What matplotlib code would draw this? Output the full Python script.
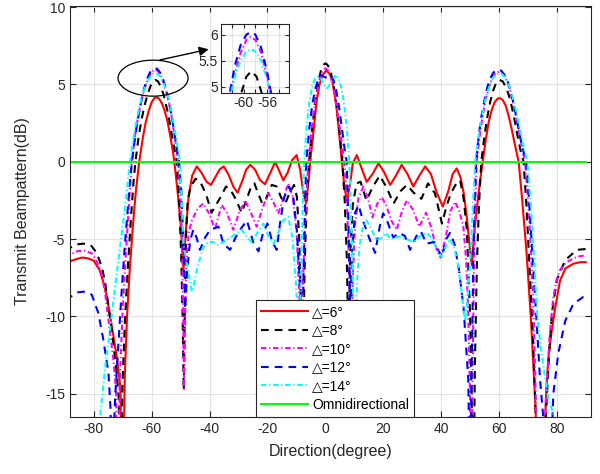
import matplotlib
matplotlib.use('Agg')
import matplotlib.pyplot as plt
from matplotlib.patches import Ellipse

plt.rcParams['font.family'] = ['Liberation Sans', 'DejaVu Sans']
plt.rcParams['axes.unicode_minus'] = False

# beampattern readings (degree, dB) per aperture width
deg_6 = [-90, -88, -86, -84, -82, -80, -78, -76.5, -75.5, -74.3, -73.2, -72, -70.8, -70.0, -69.3, -68.5, -67.5,
         -66.5, -65.5, -64.3, -63, -62, -61, -60, -59, -58.3, -57.5, -56.5, -55.5, -54.5, -53.5, -52.5, -51.8,
         -51, -50, -49, -48.2, -47.2, -46, -44.4, -42.8, -41, -39.5, -38, -36.5, -35.1, -33.5, -31.8, -30.3,
         -28.8, -27.3, -25.9, -24.3, -22.5, -20.8, -19.2, -17.3, -15.9, -14.5, -13, -11.5, -9.9, -8.7, -7.6,
         -6.6, -5.8, -5.0, -4.1, -3.0, -2.0, -1.0, 0.3, 1.5, 2.3, 3.2, 4.0, 5.0, 5.7, 6.6, 7.5, 8.5, 9.5, 10.9,
         12.5, 14.3, 16.3, 18.4, 20.4, 22.4, 24.4, 26.4, 28.4, 30.4, 32.5, 34.5, 36.5, 38.5, 40.6, 42.5, 44,
         45.4, 46.7, 47.8, 48.9, 49.8, 50.6, 51.5, 52.5, 53.5, 54.4, 55.5, 56.5, 57.5, 58.5, 59.5, 60.3, 61.3,
         62.3, 63.3, 64.3, 65.3, 66.8, 68, 69.5, 71, 72.5, 73.5, 74.5, 75.5, 76.3, 77.1, 78.2, 79.4, 81.1, 83,
         85.7, 88, 90]
db_6 = [-6.5, -6.43, -6.3, -6.2, -6.25, -6.4, -7.0, -7.9, -8.7, -10.0, -11.3, -12.7, -14.6, -24, -14, -10, -6.8,
        -4.2, -2.0, 0, 1.6, 2.6, 3.3, 3.85, 4.12, 4.17, 4.1, 3.8, 3.3, 2.6, 1.6, 0.5, -0.6,
        -2.0, -4.0, -7.0, -4.5, -2.2, -0.9, -0.3, -0.7, -1.3, -1.5, -1.0, -0.5, -0.3, -0.8, -1.6, -2.0,
        -1.3, -0.5, -0.2, -0.5, -1.2, -1.45, -0.8, 0.0, -0.6, -1.2, -0.7, 0.1, 0.43, -0.5, -2.0,
        -2.7, -1.3, 0.4, 1.9, 3.9, 5.0, 5.6, 5.9, 5.7, 5.3, 4.4, 3.3, 1.4, 0.0, -1.6, -2.6, -1.5, -0.1, 0.43,
        -0.4, -1.3, -0.8, -0.1, -0.7, -1.5, -0.9, -0.2, -0.8, -1.6, -0.9, -0.3, -0.8, -2.0, -2.9, -1.9, -0.8,
        -0.43, -1.0, -2.0, -3.6, -5.3, -6.7, -4.5, -2.8, -1.2, 0, 1.5, 2.6, 3.35, 3.85, 4.08, 4.12, 4.0,
        3.65, 3.0, 2.2, 1.3, 0, -2.4, -5.8, -10, -15.4, -20, -26, -19, -15, -12.6, -11, -9.5, -7.7, -6.9,
        -6.6, -6.5, -6.5]

deg_8 = [-90, -88, -86, -83.5, -81, -79, -77.2, -76, -74.9, -73.2, -72.2, -71.4, -70.8, -70.1, -69.2, -68.2,
         -67.2, -66.3, -65.6, -64.5, -63.5, -62.5, -61.5, -60.5, -59.5, -58.7, -57.8, -56.8, -55.8, -54.8, -53.8,
         -52.5, -51.3, -50.5, -49.8, -49.3, -48.9, -48.5, -48.1, -47.6, -46.5, -44.8, -43.2, -41.2, -39.3, -37.8,
         -36.2, -34.3, -32.5, -31, -28.9, -27.3, -25.6, -24.5, -23.3, -21.8, -20.5, -18.5, -16.8, -15.3, -13.8,
         -12.3, -10.8, -9.8, -9, -8.3, -7.7, -7.1, -6.4, -5.6, -4.5, -3.5, -2.5, -1.5, -0.5, 0.2, 1, 2, 3, 4, 5,
         5.9, 6.7, 7.4, 8, 8.6, 9.5, 10.8, 12.2, 14.2, 16.5, 18.8, 21, 23.6, 26, 28.2, 30.5, 33.2, 35.5, 37.9,
         40.3, 42, 43.5, 45, 46.6, 47.8, 48.9, 50, 50.6, 51.1, 51.7, 52.4, 53.1, 53.9, 55, 56, 57, 58, 59, 60.2,
         61.3, 62.5, 63.5, 64.5, 65.5, 66.5, 67.5, 68.5, 69.5, 70.8, 71.8, 72.5, 73.5, 74.5, 75.5, 76.5, 77.4,
         78.3, 80, 82.9, 86.9, 90]
db_8 = [-5.7, -5.55, -5.35, -5.3, -5.4, -5.9, -6.8, -7.9, -9.4, -11.8, -13.5, -15.2, -24, -14.5, -10.2, -6.8,
        -3.8, -1.4, 0, 1.6, 2.7, 3.6, 4.3, 4.85, 5.2, 5.3, 5.2, 4.85, 4.3, 3.5, 2.6,
        1.2, 0, -2.5, -6, -10, -14.8, -9, -4.8, -2.6, -1.6, -1.1, -1.3, -2.1, -3.3, -2.8,
        -2.3, -1.6, -1.9, -2.4, -3.3, -2.5, -1.6, -1.4, -2.0, -2.7, -2.4, -1.5, -1.6, -2.3, -2.7,
        -2.0, -1.5, -2.3, -5, -10, -12.5, -6.5, -2.5, 0, 2.2, 3.9, 5.1, 5.9, 6.3, 6.37, 6.2, 5.7, 4.8, 3.5, 1.8,
        0, -2.5, -6, -12, -6, -2.8, -1.4, -1.3, -2.5, -1.6, -0.9, -1.6, -2.7, -1.9, -1.5, -2.0, -2.4, -1.4, -2.05,
        -4.0, -2.8, -2.0, -1.5, -1.2, -2.4, -4.4, -9.8, -15.4, -24, -13, -6.5, -2.8, 0, 1.7, 2.9, 3.9, 4.6, 5.1, 5.3,
        5.2, 4.8, 4.25, 3.5, 2.6, 1.6, 0.7, 0, -2.8, -7.7, -11.5, -15.4, -20, -26, -19, -15.4, -12.2,
        -9.8, -7.66, -6.37, -5.7, -5.65]

deg_10 = [-90, -88, -85.5, -83, -80.5, -78.8, -77.2, -76, -74.9, -73.2, -72.3, -71.7, -71, -70, -69, -68, -66.9,
          -65.5, -64.5, -63.5, -62.5, -61.5, -60.5, -59.5, -58.8, -58, -57, -56, -55, -54, -53, -52, -50.8, -50,
          -49.5, -49.1, -48.8, -48.4, -48, -47.2, -46.1, -44, -42.1, -40, -38.1, -37, -35.8, -34, -31.8, -29.8,
          -27.7, -25.7, -23.7, -21.7, -19.7, -18, -16.2, -14.5, -12.8, -11.2, -9.9, -8.9, -8.3, -7.6, -6.6, -5.8,
          -5, -4, -3, -2, -1, 0, 1, 2, 3, 4, 5, 6, 6.8, 7.5, 8.3, 8.9, 9.5, 10.3, 11.5, 13.2, 14.8, 16.3, 18,
          19.5, 21, 22.8, 24.7, 26.5, 28.2, 30.3, 32.5, 34.8, 36.5, 38.5, 39.8, 41.5, 43.2, 44.9, 46.3, 47.7,
          48.7, 49.4, 50, 50.5, 51, 51.5, 51.9, 52.3, 53.5, 54.5, 55.5, 56.5, 57.5, 58.5, 59.5, 60.2, 61, 62,
          63, 64, 65, 66, 67, 68, 69, 70, 71, 72, 72.7, 73.3, 74, 74.8, 75.7, 76.5, 77.5, 78.8, 80, 81.1, 82.8,
          84.6, 87, 90]
db_10 = [-6.1, -6.0, -5.78, -5.76, -5.95, -6.5, -7.3, -8.6, -10.3, -12.8, -14.8, -24, -14, -9.6, -6.2, -3.3, 0,
         2.0, 3.1, 4.0, 4.7, 5.25, 5.65, 5.9, 5.95, 5.9, 5.65, 5.2, 4.6, 3.8, 2.8, 1.6, 0, -2.2,
         -5, -10, -14.7, -9.5, -6.5, -4.6, -3.8, -3.0, -2.7, -3.4, -4.4, -3.6, -2.8, -3.3, -4.4, -3.3,
         -2.5, -3.3, -4.2, -3.0, -2.05, -2.6, -3.34, -2.4, -1.4, -2.3, -4.6, -9, -13, -7, -2.5, 0,
         1.6, 3.2, 4.4, 5.3, 5.85, 6.05, 5.9, 5.4, 4.6, 3.4, 2.2, 0.8, -0.5, -2.8, -7, -13, -7.5, -4.0, -2.3,
         -1.6, -2.4, -3.6, -2.7, -2.3, -2.8, -3.8, -4.4, -3.2, -2.5, -3.1, -4.2, -3.3, -4.2, -5.7, -6.2, -5.0,
         -3.2, -2.6, -3.2, -4.2, -6.5, -9.8, -15, -24, -12, -5.5, -2.4, 0, 1.9, 3.1, 4.1, 4.8, 5.35, 5.65, 5.8,
         5.83, 5.78, 5.55, 5.1, 4.5, 3.75, 2.85, 1.85, 0.9, 0, -2.4, -5.5, -10, -15, -20, -26, -21, -17.5,
         -14.5, -11.3, -8.74, -7.6, -7.0, -6.6, -6.37, -6.15, -6.05]

deg_12 = [-90, -88, -85.5, -83, -80.7, -78.4, -76.7, -74.9, -74.2, -73.6, -73, -72.6, -71.5, -70.5, -69.5, -68.5,
          -67.6, -66.8, -65.5, -64.5, -63.5, -62.5, -61.5, -60.5, -59.5, -58.7, -58, -57, -56, -55, -54, -53, -52,
          -51, -50.5, -49.7, -49, -48.4, -47.7, -46.7, -45.6, -44.5, -43.3, -41.5, -39.8, -38.2, -36.9, -35.2,
          -32.9, -31, -29.4, -27.1, -25.8, -24.8, -23.1, -21.5, -20, -18.3, -16.8, -15.5, -14.2, -12.5, -11,
          -9.8, -8.6, -8, -7.3, -6.6, -5.5, -4.5, -3.5, -2.5, -1.6, -0.8, 0, 0.8, 1.8, 2.8, 3.8, 4.8, 5.8, 6.7,
          7.4, 8, 8.6, 9.3, 10.3, 11.5, 13, 15.5, 17.2, 18.8, 20, 21.5, 23.5, 25.5, 27.5, 29.3, 31.5, 33, 35,
          37.5, 40.3, 41.8, 43.1, 44.6, 46.2, 47.8, 49.4, 50, 50.6, 51.2, 51.6, 52.1, 53, 54, 55, 56, 57, 58, 59,
          59.8, 60.8, 62, 63, 64, 65, 66, 67, 68, 69.4, 70, 71, 72, 73, 74.2, 75.2, 76.3, 77.4, 78.3, 78.8,
          80.5, 82.9, 85.7, 89.2, 90]
db_12 = [-8.8, -8.74, -8.45, -8.4, -8.6, -9.8, -11.5, -13.7, -16, -24, -17, -15.2, -11.8, -8.8, -6.0, -3.6,
         -1.5, 0, 1.9, 3.0, 4.0, 4.8, 5.4, 5.8, 6.0, 6.05, 6.0, 5.75, 5.3, 4.7, 3.9, 2.9, 1.7,
         0.5, 0, -2, -5.5, -9.5, -7, -5.1, -4.4, -4.9, -5.7, -4.9, -4.4, -4.3, -4.2, -5.3,
         -5.7, -4.9, -4.4, -3.8, -4.6, -5.3, -5.8, -4.6, -4.0, -5.2, -5.7, -3.8, -2.3, -1.6, -2.4,
         -4.5, -8.5, -13, -5, 0, 2.2, 3.7, 4.7, 5.3, 5.6, 5.55, 5.45, 5.5, 5.62, 5.3, 4.6, 3.5, 2.1, 0.8,
         0, -4, -10, -5.5, -3.3, -2.8, -3.8, -5.1, -5.9, -4.2, -3.34, -3.9, -4.9, -4.6, -4.8, -5.7, -4.8, -4.5, -5.3,
         -5.2, -6.15, -5.0, -4.6, -5.3, -7.0, -9.5, -14.1, -22, -13, -5.5, -2.5, 0, 1.7, 3.0, 4.0, 4.85, 5.4, 5.75, 5.93,
         5.96, 5.9, 5.6, 5.2, 4.6, 3.8, 2.9, 1.9, 1.0, 0, -1.3, -4.3, -7.3, -10.3, -14.1, -16.3, -19, -24, -17.5, -15,
         -12.4, -10.3, -9.2, -8.74, -8.7]

deg_14 = [-90, -86, -82, -79.5, -77.8, -77.2, -76, -74.4, -72.5, -70.9, -69.5, -68.3, -67.5, -66.5, -65.5, -64.5,
          -63.5, -62.5, -61.5, -60.5, -59.5, -58.7, -58, -57, -56, -55, -54, -53, -52, -51, -50.2, -49.6, -49,
          -48, -47.3, -46.1, -45.2, -44.4, -43.2, -42.1, -40.5, -38.7, -37, -35.2, -32, -28.9, -27, -25.4, -23.5,
          -21.4, -19.7, -17.9, -16, -14.5, -12.8, -11.3, -10.3, -9.8, -9.2, -8.5, -7.9, -7.3, -6.5, -5.5, -4.5,
          -3.5, -2.4, -1.4, -0.5, 0.5, 1.5, 2.5, 3.4, 4.4, 5.4, 6.4, 7.4, 8.3, 8.9, 9.6, 10.3, 10.9, 11.8, 13,
          14.3, 16, 17.8, 19.5, 21, 22.5, 24, 25.8, 28, 30.4, 32.8, 35, 37, 38.8, 40.3, 41.7, 43.1, 44.6, 46, 47.3,
          48.3, 49.2, 50, 51, 51.8, 52.8, 53.8, 55, 56, 57, 58, 59, 60, 61, 62, 63, 64, 65, 66, 67, 68, 69, 69.8,
          71, 72, 73.1, 74.3, 75.4, 77.1, 79.7, 81, 84, 88, 90]
db_14 = [-23, -26, -24, -19, -16.5, -15.4, -13.2, -10.9, -7.9, -5.5, -3.4, -1.4, 0, 1.3, 2.4, 3.3,
         4.1, 4.7, 5.2, 5.5, 5.68, 5.72, 5.68, 5.5, 5.15, 4.65, 4.0, 3.1, 2.1, 0.9, 0, -2.5, -5.3,
         -6.4, -7.2, -8.4, -7.8, -7.0, -6.2, -5.5, -5.2, -5.2, -5.4, -5.2, -4.8, -4.4, -4.9, -5.2, -4.6,
         -4.0, -4.8, -5.3, -4.5, -3.8, -3.56, -5, -7.5, -9, -13, -8, -3.5, 0, 2.2, 3.9, 4.9,
         5.4, 5.55, 5.35, 4.95, 4.75, 4.95, 5.35, 5.55, 5.4, 4.9, 3.9, 2.2, 0, -3.5, -8.5, -13, -8, -5.5, -4.2,
         -3.8, -4.4, -5.1, -4.9, -4.6, -5.0, -4.9, -4.86, -5.0, -5.2, -4.8, -4.6, -5.0, -5.8, -6.15, -5.4, -5.0, -5.6, -6.8, -8.8,
         -10.3, -8.8, -6.6, -2.8, 0, 1.5, 2.7, 3.8, 4.5, 5.05, 5.45, 5.65, 5.72, 5.68, 5.5, 5.15, 4.65, 4.0, 3.2, 2.3, 1.4, 0.6, 0,
         -2.8, -5.8, -9.8, -11.8, -13.3, -15.4, -16.8, -18, -22, -25, -24]

omni_deg = [-90, 90]
omni_db = [0, 0]

labels = ['\u25b3=6\u00b0', '\u25b3=8\u00b0', '\u25b3=10\u00b0', '\u25b3=12\u00b0', '\u25b3=14\u00b0', 'Omnidirectional']

series = [(deg_6, db_6, '#ff0000', '-'),
          (deg_8, db_8, '#000000', (0, (3.7, 2.9))),
          (deg_10, db_10, '#ff00ff', (0, (2.6, 1.3, 0.6, 1.3))),
          (deg_12, db_12, '#0000ff', (0, (3.7, 2.9))),
          (deg_14, db_14, '#00ffff', (0, (2.6, 1.3, 0.6, 1.3))),
          (omni_deg, omni_db, '#00ff00', '-')]

ink = '#262626'

fig = plt.figure(figsize=(6, 4.74), dpi=100)
ax = fig.add_axes([0.1167, 0.1209, 0.8678, 0.8671])

for (x, y, c, ls), lab in zip(series, labels):
    ax.plot(x, y, color=c, linestyle=ls, linewidth=1.5, label=lab)

ax.set_xlim(-88.2, 91.7)
ax.set_ylim(-16.5, 10.1)
ax.set_xticks(range(-80, 81, 20))
ax.set_yticks(range(-15, 11, 5))
ax.grid(True, color='#e3e3e3', linewidth=0.8)
ax.set_axisbelow(True)
ax.tick_params(direction='in', top=True, right=True, length=4, width=0.8,
               colors=ink, labelsize=10)
for s in ax.spines.values():
    s.set_color(ink)
    s.set_linewidth(0.8)
ax.set_xlabel('Direction(degree)', fontsize=11.5, color=ink, labelpad=6)
ax.set_ylabel('Transmit Beampattern(dB)', fontsize=11.5, color=ink, labelpad=11)

ax.add_patch(Ellipse((-59.5, 5.41), 24.2, 2.33, fill=False, edgecolor='k', linewidth=0.9, zorder=5))
ax.annotate('', xy=(-40.3, 7.28), xytext=(-57.1, 6.59),
            arrowprops=dict(arrowstyle='-|>', color='k', lw=1, mutation_scale=14,
                            shrinkA=0, shrinkB=0))

leg = ax.legend(loc='lower left', bbox_to_anchor=(0.3566, 0.0), borderaxespad=0,
                fontsize=10, handlelength=3.4, handletextpad=0.3, labelspacing=0.33,
                borderpad=0.35, fancybox=False, framealpha=1, edgecolor=ink)
leg.get_frame().set_linewidth(0.8)

# zoomed view of the left main lobe
axin = fig.add_axes([220.7 / 600, (474 - 93.3) / 474, 68.6 / 600, 69.3 / 474])
for x, y, c, ls in series[:5]:
    axin.plot(x, y, color=c, linestyle=ls, linewidth=1.5)
axin.set_xlim(-63.9, -52.2)
axin.set_ylim(4.88, 6.2)
axin.set_xticks([-62, -60, -58, -56, -54])
axin.set_xticklabels(['', '-60', '', '-56', ''])
axin.set_yticks([5, 5.5, 6])
axin.set_yticklabels(['5', '5.5', '6'])
axin.grid(True, color='#e3e3e3', linewidth=0.8)
axin.set_axisbelow(True)
axin.tick_params(direction='in', top=True, right=True, length=3, width=0.8,
                 colors=ink, labelsize=10, pad=2)
for s in axin.spines.values():
    s.set_color(ink)
    s.set_linewidth(0.8)

fig.savefig('out.png', dpi=100)
